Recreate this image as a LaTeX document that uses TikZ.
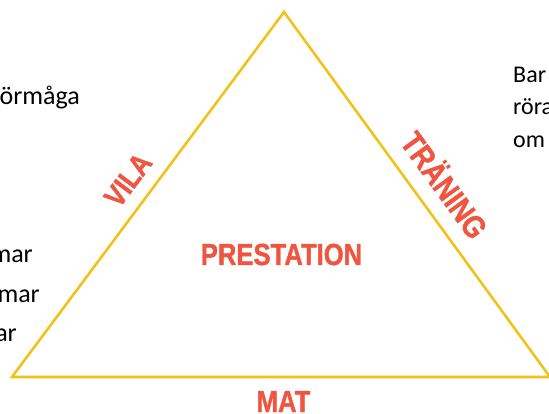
\documentclass[tikz,border=0pt]{standalone}
\usepackage{fontspec}
\setmainfont{Carlito}
\newfontfamily\labelfont[FakeStretch=0.84, FakeBold=1.2]{Liberation Sans}
\usetikzlibrary{calc, positioning}
\definecolor{triyellow}{HTML}{F2C21B}
\definecolor{labelred}{HTML}{EE5641}

\begin{document}
\begin{tikzpicture}[x=1pt, y=-1pt,
  side/.style={text=labelred, font=\labelfont\bfseries\fontsize{30}{30}\selectfont, inner sep=0pt},
  big/.style={side, font=\labelfont\bfseries\fontsize{30.5}{30.5}\selectfont},
  frag/.style={font=\fontsize{24}{24}\selectfont, inner sep=0pt},
  bigfrag/.style={frag, font=\fontsize{26}{26}\selectfont}]
\useasboundingbox (0,0) rectangle (549,414);
\clip (0,0) rectangle (549,414);
\coordinate (top) at (284,12);
\coordinate (left) at (12,377);
\coordinate (right) at (550,377);
\draw[triyellow, line width=2.6pt, line join=miter] (top) -- (left) -- (right) -- cycle;
% labels on the sides
\node[side, rotate=53.3] (vila) at (128,180) {VILA};
\node[side, rotate=-54, font=\labelfont\bfseries\fontsize{32}{32}\selectfont] (traning) at (446,184) {TRÄNING};
\node[big, anchor=base] (prestation) at (281.5,265) {PRESTATION};
\node[big, anchor=base] (mat) at (283.5,412) {MAT};
% text cut off at the edges
\node[bigfrag, anchor=base east] (formaga) at (80,105) {förmåga};
\node[bigfrag, anchor=base east] (mar1) at (33,262) {mar};
\node[bigfrag, anchor=base east] (mar2) at (40,302) {mar};
\node[bigfrag, anchor=base east] (ar) at (17,341) {ar};
\node[frag, anchor=base west] (bar) at (513,83) {Bar};
\node[frag, anchor=base west] (rora) at (513,115) {röra};
\node[frag, anchor=base west] (om) at (513,148) {om};
\end{tikzpicture}
\end{document}
